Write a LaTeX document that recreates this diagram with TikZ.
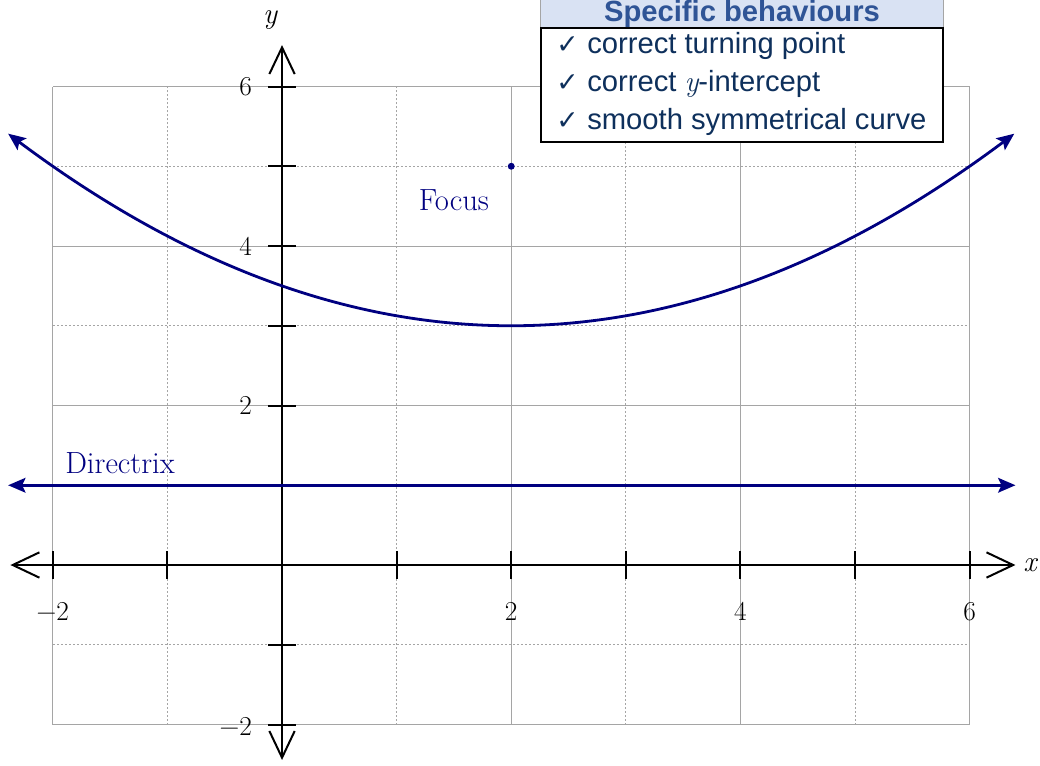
\documentclass[tikz,border=0pt]{standalone}
\usepackage{fontspec}
\newfontfamily\tabfont{Liberation Sans}
\newfontfamily\symfont{DejaVu Sans}
\usetikzlibrary{arrows.meta}
\definecolor{curvecol}{RGB}{0,0,128}
\definecolor{gridcol}{RGB}{165,165,165}
\definecolor{headfill}{RGB}{217,226,243}
\definecolor{headtext}{RGB}{47,84,150}
\definecolor{rowtext}{RGB}{14,48,92}
\tikzset{
  axistip/.tip={Straight Barb[length=20pt,width=19pt,line width=1.5pt]},
  curvetip/.tip={Stealth[length=13pt,width=11pt,inset=2.5pt]}
}
\newcommand{\mns}{\char"2212\relax}
\begin{document}
\begin{tikzpicture}[x=85.95pt,y=59.81pt,
  majorline/.style={gridcol, line width=0.75pt},
  minorline/.style={gridcol, line width=0.75pt, dash pattern=on 1.5pt off 1.5pt},
  axisline/.style={black, line width=1.5pt},
  curveline/.style={curvecol, line width=2.1pt},
  ticklabel/.style={font=\fontsize{20.5}{22}\selectfont, inner sep=0pt},
  curvelabel/.style={curvecol, font=\fontsize{23}{26}\selectfont, inner sep=0pt},
  axislabel/.style={font=\fontsize{22}{24}\selectfont\itshape, inner sep=0pt},
  rowtextstyle/.style={rowtext, font=\tabfont\fontsize{21.9}{26}\selectfont, inner sep=0pt, anchor=base west},
  checkstyle/.style={rowtext, font=\symfont\fontsize{20}{22}\selectfont, inner sep=0pt, anchor=base west}]
\useasboundingbox (-2.461,-2.520) rectangle (6.614,7.085);
% grid
\foreach \v in {-1,1,3,5} {
  \draw[minorline] (\v,-2) -- (\v,6);
  \draw[minorline] (-2,\v) -- (6,\v);
}
\foreach \v in {-2,0,2,4,6} {
  \draw[majorline] (\v,-2) -- (\v,6);
  \draw[majorline] (-2,\v) -- (6,\v);
}
% axes
\coordinate (xleft) at (-2.37,0);
\coordinate (xright) at (6.40,0);
\coordinate (ybottom) at (0,-2.445);
\coordinate (ytop) at (0,6.52);
\draw[axisline, axistip-axistip] (xleft) -- (xright);
\draw[axisline, axistip-axistip] (ybottom) -- (ytop);
\foreach \v in {-2,...,6} {
  \draw[axisline] (\v,-0.17) -- (\v,0.17);
  \draw[axisline] (-0.122,\v) -- (0.122,\v);
}
% tick labels
\node[ticklabel] (xlm2) at (-2,-0.58) {\mns 2};
\node[ticklabel] (xl2) at (2,-0.58) {2};
\node[ticklabel] (xl4) at (4,-0.58) {4};
\node[ticklabel] (xl6) at (6,-0.58) {6};
\node[ticklabel, anchor=east] (ylm2) at (-0.26,-2.03) {\mns 2};
\node[ticklabel, anchor=east] (yl2) at (-0.26,2) {2};
\node[ticklabel, anchor=east] (yl4) at (-0.26,4) {4};
\node[ticklabel, anchor=east] (yl6) at (-0.26,6) {6};
\node[axislabel] (ylab) at (-0.105,6.83) {y};
\node[axislabel] (xlab) at (6.527,0) {x};
% directrix
\coordinate (dleft) at (-2.39,1);
\coordinate (dright) at (6.40,1);
\draw[curveline, curvetip-curvetip] (dleft) -- (dright);
% parabola
\draw[curveline, curvetip-curvetip] plot[domain=-2.39:6.39, samples=120, smooth] (\x, {(\x-2)^2/8+3});
% focus
\fill[curvecol] (2,5) circle (2.6pt);
\node[curvelabel] (focuslab) at (1.50,4.577) {Focus};
\node[curvelabel] (directrixlab) at (-1.414,1.28) {Directrix};
% table
\begin{scope}[shift={(-2.461,7.085)}, x=0.75pt, y=-0.75pt]
  \fill[headfill] (540,0) rectangle (944,28);
  \draw[gridcol, line width=0.6pt] (540.5,0) -- (540.5,28) (943.5,0) -- (943.5,28);
  \draw[black, line width=1.5pt, fill=white] (541,28) rectangle (943,142);
  \node[headtext, font=\tabfont\bfseries\fontsize{21.9}{26}\selectfont, inner sep=0pt, anchor=base] (head) at (742,21.5) {Specific behaviours};
  \node[checkstyle] (c1) at (556,54) {✓};
  \node[rowtextstyle] (r1) at (587,54) {correct turning point};
  \node[checkstyle] (c2) at (556,92) {✓};
  \node[rowtextstyle] (r2) at (587,92) {correct {\rmfamily\itshape y}-intercept};
  \node[checkstyle] (c3) at (556,129.5) {✓};
  \node[rowtextstyle] (r3) at (587,129.5) {smooth symmetrical curve};
\end{scope}
\end{tikzpicture}
\end{document}
